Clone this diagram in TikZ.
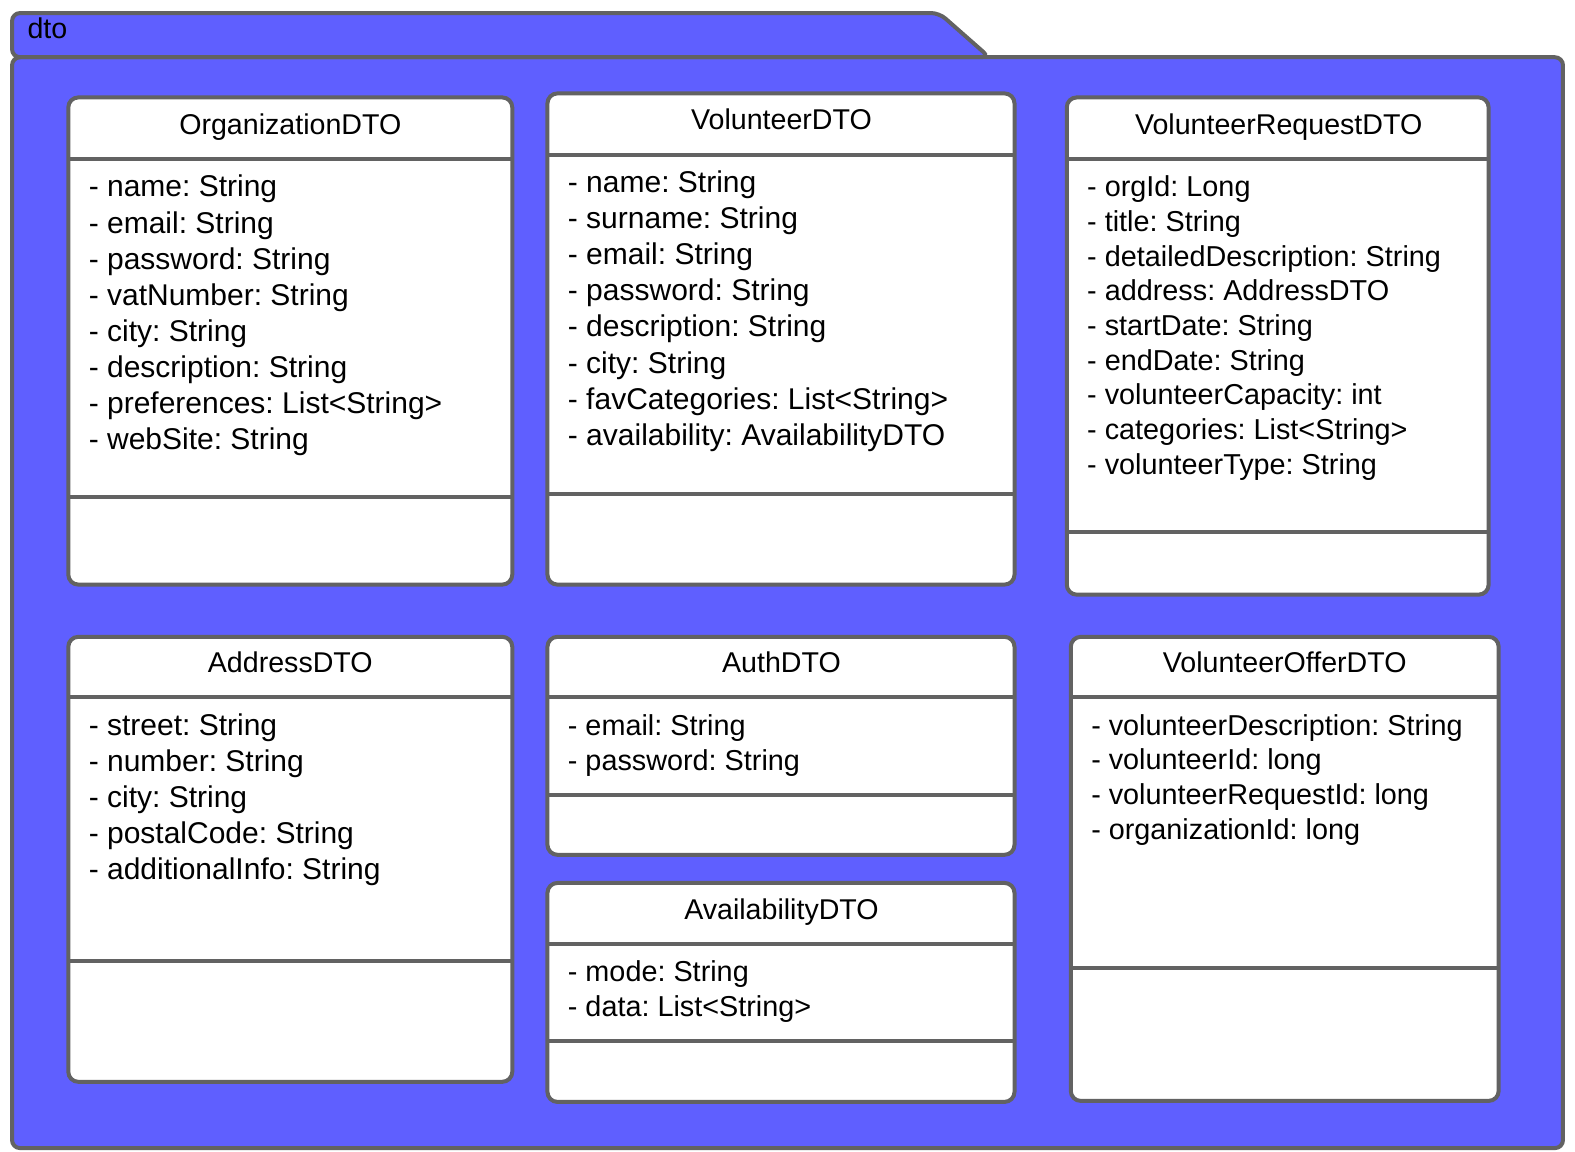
\documentclass[tikz,border=0pt]{standalone}
\usepackage{fontspec}
\setmainfont{Liberation Sans}
\frenchspacing
\definecolor{pkgblue}{HTML}{5F5FFF}
\definecolor{edgegray}{HTML}{626262}
\newcommand{\drawclass}[7]{%
  \draw[clsbox] (#2,#3) rectangle (#4,#5);
  \draw[clssep] (#2,#6) coordinate (#1-s1l) -- (#4,#6) coordinate (#1-s1r);
  \draw[clssep] (#2,#7) coordinate (#1-s2l) -- (#4,#7) coordinate (#1-s2r);
}
\newcommand{\attrlist}[6]{% style, name, x, first baseline, step, list
  \foreach \t [count=\i] in {#6} {
    \node[#1] (#2-a\i) at (#3,{#4+(\i-1)*#5}) {\t};
  }
}
\begin{document}
\begin{tikzpicture}[x=0.50223pt,y=-0.50223pt,
  pkg/.style={fill=pkgblue, draw=edgegray, line width=2pt, rounded corners=4pt},
  clsbox/.style={fill=white, draw=edgegray, line width=2pt, rounded corners=5pt},
  clssep/.style={draw=edgegray, line width=2pt},
  title/.style={font=\fontsize{14.3}{17}\selectfont\frenchspacing, inner sep=0pt, anchor=base},
  attr/.style={font=\fontsize{15}{18}\selectfont\frenchspacing, inner sep=0pt, anchor=base west},
  attrsmall/.style={attr, font=\fontsize{14.4}{17}\selectfont\frenchspacing}]
\useasboundingbox (0,0) rectangle (1568,1146);
% package
\draw[pkg] (12,57) rectangle (1556,1143);
\draw[pkg] (12,57) -- (12,13) -- (935,13) -- (985,57) -- cycle;
\draw[clssep] (14,57) -- (985,57);
\node[anchor=base west, inner sep=0pt, font=\fontsize{14.3}{17}\selectfont] (pkgname) at (27,38) {dto};
% OrganizationDTO
\drawclass{org}{68}{97}{510}{582}{158}{495}
\node[title] (org-t) at (289,134) {OrganizationDTO};
\attrlist{attr}{org}{88}{196}{36}{- name: String,- email: String,- password: String,- vatNumber: String,- city: String,- description: String,- preferences: List<String>,- webSite: String}
% VolunteerDTO
\drawclass{vol}{545}{93}{1010}{582}{154}{492}
\node[title] (vol-t) at (778,129) {VolunteerDTO};
\attrlist{attr}{vol}{565}{191.5}{36}{- name: String,- surname: String,- email: String,- password: String,- description: String,- city: String,- favCategories: List<String>,- availability: AvailabilityDTO}
% VolunteerRequestDTO
\drawclass{vrq}{1062}{97}{1482}{592}{158}{530}
\node[title] (vrq-t) at (1273,134) {VolunteerRequestDTO};
\attrlist{attrsmall}{vrq}{1082}{196}{34.5}{- orgId: Long,- title: String,- detailedDescription: String,- address: AddressDTO,- startDate: String,- endDate: String,- volunteerCapacity: int,- categories: List<String>,- volunteerType: String}
% AddressDTO
\drawclass{adr}{68}{634}{510}{1077}{694}{957}
\node[title] (adr-t) at (289,670) {AddressDTO};
\attrlist{attr}{adr}{88}{732}{36}{- street: String,- number: String,- city: String,- postalCode: String,- additionalInfo: String}
% AuthDTO
\drawclass{aut}{545}{634}{1010}{851}{694}{791}
\node[title] (aut-t) at (778,670) {AuthDTO};
\attrlist{attrsmall}{aut}{565}{732}{35}{- email: String,- password: String}
% AvailabilityDTO
\drawclass{avl}{545}{879}{1010}{1097}{940}{1036}
\node[title] (avl-t) at (778,915) {AvailabilityDTO};
\attrlist{attrsmall}{avl}{565}{977}{35}{- mode: String,- data: List<String>}
% VolunteerOfferDTO
\drawclass{vof}{1066}{634}{1492}{1096}{694}{964}
\node[title] (vof-t) at (1279,670) {VolunteerOfferDTO};
\attrlist{attrsmall}{vof}{1086}{732}{34.5}{- volunteerDescription: String,- volunteerId: long,- volunteerRequestId: long,- organizationId: long}
\end{tikzpicture}
\end{document}
